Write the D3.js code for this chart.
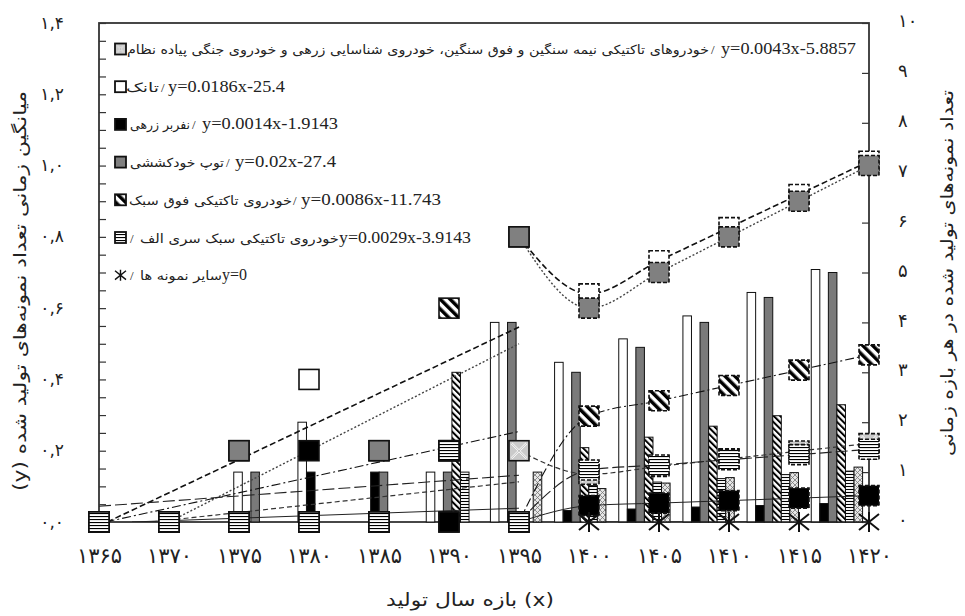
<!DOCTYPE html>
<html><head><meta charset="utf-8">
<script src="https://cdn.jsdelivr.net/npm/d3@7"></script>
<style>body{margin:0;background:#fff}svg{display:block}</style>
</head><body><svg id="c" width="965" height="616"></svg>
<script>
// ---------------- DATA ----------------
const years = [1365,1370,1375,1380,1385,1390,1395,1400,1405,1410,1415,1420];
const xTickLabels = ["۱۳۶۵","۱۳۷۰","۱۳۷۵","۱۳۸۰","۱۳۸۵","۱۳۹۰","۱۳۹۵","۱۴۰۰","۱۴۰۵","۱۴۱۰","۱۴۱۵","۱۴۲۰"];
const leftTickValues = [0,0.2,0.4,0.6,0.8,1.0,1.2,1.4];
const leftTickLabels = ["۰,۰","۰,۲","۰,۴","۰,۶","۰,۸","۱,۰","۱,۲","۱,۴"];
const rightTickValues = [0,1,2,3,4,5,6,7,8,9,10];
const rightTickLabels = ["۰","۱","۲","۳","۴","۵","۶","۷","۸","۹","۱۰"];

const seriesKeys = ["heavy","tank","apc","spg","ultra","lightA","others"];
const seriesNames = [
  "خودروهای تاکتیکی نیمه سنگین و فوق سنگین، خودروی شناسایی زرهی و خودروی جنگی پیاده نظام",
  "تانک",
  "نفربر زرهی",
  "توپ خودکششی",
  "خودروی تاکتیکی فوق سبک",
  "خودروی تاکتیکی سبک سری الف",
  "سایر نمونه ها"
];
const trendLabels = ["y=0.0043x-5.8857","y=0.0186x-25.4","y=0.0014x-1.9143","y=0.02x-27.4","y=0.0086x-11.743","y=0.0029x-3.9143","y=0"];
const trendSlope = [0.0043,0.0186,0.0014,0.02,0.0086,0.0029,0];
const trendIntercept = [-5.8857,-25.4,-1.9143,-27.4,-11.743,-3.9143,0];

// time-average markers (left axis), 1365..1420
const avgHeavy  = [0,0,0,0,0,0,0.2, 0.134,0.156,0.177,0.199,0.22];
const avgTank   = [0,0,0.2,0.4,0,0.2,0.8, 0.64,0.733,0.826,0.919,1.012];
const avgApc    = [0,0,0,0.2,0.2,0,0, 0.046,0.053,0.06,0.067,0.074];
const avgSpg    = [0,0,0.2,0,0.2,0.2,0.8, 0.6,0.7,0.8,0.9,1.0];
const avgUltra  = [0,0,0,0,0,0.6,0, 0.297,0.34,0.383,0.426,0.469];
const avgLightA = [0,0,0,0,0,0.2,0, 0.146,0.16,0.175,0.189,0.204];
const avgOthers = [null,null,null,null,null,null,null, 0,0,0,0,0];

// counts per period (right axis bars)
const barTank   = [0,0,1,2,0,1,4, 3.2,3.67,4.13,4.6,5.06];
const barApc    = [0,0,0,1,1,0,0, 0.23,0.26,0.3,0.33,0.37];
const barSpg    = [0,0,1,0,1,1,4, 3,3.5,4,4.5,5];
const barUltra  = [0,0,0,0,0,3,0, 1.49,1.7,1.92,2.13,2.35];
const barLightA = [0,0,0,0,0,1,0, 0.73,0.8,0.87,0.95,1.02];
const barHeavy  = [0,0,0,0,0,0,1, 0.67,0.78,0.89,0.99,1.1];
const forecastStart = 1400;

// ---------------- SETUP ----------------
const avgData = {heavy:avgHeavy,tank:avgTank,apc:avgApc,spg:avgSpg,ultra:avgUltra,lightA:avgLightA,others:avgOthers};
const barKeys = ["tank","apc","spg","ultra","lightA","heavy"];
const barData = {tank:barTank,apc:barApc,spg:barSpg,ultra:barUltra,lightA:barLightA,heavy:barHeavy};

const P = {l:99,r:869,t:23,b:522};
const svg = d3.select("#c");
const x = d3.scaleLinear().domain([1365,1420]).range([P.l,P.r]);
const yL = d3.scaleLinear().domain([0,1.4]).range([P.b,P.t]);
const yR = d3.scaleLinear().domain([0,10]).range([P.b,P.t]);
const xb = d3.scaleBand().domain(years).range([P.l,P.r]).paddingInner(0.2).paddingOuter(0.1);
const xs = d3.scaleBand().domain(barKeys).range([0,xb.bandwidth()]);

const PERSIAN = "'DejaVu Sans', 'Noto Sans', sans-serif";
const SERIF = "'Liberation Serif', 'DejaVu Serif', serif";

// patterns
const defs = svg.append("defs");
function stripes(id, size, bar, rot, bg){
  const p = defs.append("pattern").attr("id",id).attr("patternUnits","userSpaceOnUse")
    .attr("width",size).attr("height",size).attr("patternTransform",`rotate(${rot})`);
  p.append("rect").attr("width",size).attr("height",size).attr("fill",bg);
  p.append("rect").attr("width",bar).attr("height",size).attr("fill","#000");
}
stripes("hatchM",7,3.5,-45,"#fff");
stripes("hatchB",4.5,2,-45,"#fff");
stripes("horizM",3,1.1,90,"#fff");
stripes("horizB",3,1,90,"#f4f4f4");
(function(){
  const p = defs.append("pattern").attr("id","crossB").attr("patternUnits","userSpaceOnUse").attr("width",5).attr("height",5);
  p.append("rect").attr("width",5).attr("height",5).attr("fill","#e6e6e6");
  p.append("path").attr("d","M0,0L5,5M5,0L0,5").attr("stroke","#777").attr("stroke-width",0.8);
})();
const clip = defs.append("clipPath").attr("id","plotClip");
clip.append("rect").attr("x",P.l).attr("y",P.t-12).attr("width",P.r-P.l+12).attr("height",P.b-P.t+12);

const fills = {heavy:"#cacaca",tank:"#fff",apc:"#000",spg:"#808080",ultra:"url(#hatchM)",lightA:"url(#horizM)"};
const barFills = {heavy:"url(#crossB)",tank:"#fff",apc:"#000",spg:"#7a7a7a",ultra:"url(#hatchB)",lightA:"url(#horizB)"};

// ---------------- AXES FRAME ----------------
svg.append("rect").attr("x",P.l).attr("y",P.t).attr("width",P.r-P.l).attr("height",P.b-P.t)
  .attr("fill","none").attr("stroke","#333").attr("stroke-width",1.8);

const minor = d3.range(0,1.4001,0.05).map(v=>+v.toFixed(2));
const gL = svg.append("g").attr("transform",`translate(${P.l},0)`)
  .call(d3.axisLeft(yL).tickValues(minor).tickSize(-7).tickPadding(35)
    .tickFormat(v=>{const i=leftTickValues.findIndex(t=>Math.abs(t-v)<1e-6);return i>=0?leftTickLabels[i]:"";}));
gL.select(".domain").remove();
gL.selectAll(".tick line").attr("stroke","#333").attr("stroke-width",1.2);
gL.selectAll("text").attr("font-family",PERSIAN).attr("font-size",17).attr("fill","#222").attr("dy","0.3em");

const gR = svg.append("g").attr("transform",`translate(${P.r},0)`)
  .call(d3.axisRight(yR).tickValues(rightTickValues).tickSize(-7).tickPadding(29)
    .tickFormat((v,i)=>rightTickLabels[i]));
gR.select(".domain").remove();
gR.selectAll(".tick line").attr("stroke","#333").attr("stroke-width",1.2);
gR.selectAll("text").attr("font-family",PERSIAN).attr("font-size",18).attr("fill","#222").attr("dy","0.2em");

const gB = svg.append("g").attr("transform",`translate(0,${P.b})`)
  .call(d3.axisBottom(x).tickValues(years).tickSize(0).tickPadding(26).tickFormat((v,i)=>xTickLabels[i]));
gB.select(".domain").remove();
gB.selectAll("text").attr("font-family",PERSIAN).attr("font-size",21).attr("fill","#222");

// titles
svg.append("text").attr("transform","translate(20,291) rotate(-90)")
  .attr("direction","rtl").attr("text-anchor","middle").attr("dominant-baseline","central")
  .attr("font-family",PERSIAN).attr("font-size",17).attr("fill","#222")
  .attr("textLength",400).attr("lengthAdjust","spacingAndGlyphs")
  .text("میانگین زمانی تعداد نمونه‌های تولید شده (y)");
svg.append("text").attr("transform","translate(947,273) rotate(-90)")
  .attr("direction","rtl").attr("text-anchor","middle").attr("dominant-baseline","central")
  .attr("font-family",PERSIAN).attr("font-size",17).attr("fill","#222")
  .attr("textLength",366).attr("lengthAdjust","spacingAndGlyphs")
  .text("تعداد نمونه‌های تولید شده در هر بازه زمانی");
svg.append("text").attr("x",470).attr("y",606).attr("text-anchor","middle")
  .attr("font-family",PERSIAN).attr("font-size",18).attr("fill","#222")
  .attr("textLength",168).attr("lengthAdjust","spacingAndGlyphs")
  .text("بازه سال تولید (x)");

// ---------------- BARS ----------------
const gBars = svg.append("g");
years.forEach((yr,i)=>{
  barKeys.forEach(k=>{
    const v = barData[k][i];
    if(!v) return;
    gBars.append("rect").attr("x",xb(yr)+xs(k)).attr("width",xs.bandwidth())
      .attr("y",yR(v)).attr("height",yR(0)-yR(v))
      .attr("fill",barFills[k]).attr("stroke","#111").attr("stroke-width",1);
  });
});

// ---------------- LINES ----------------
const lineStyle = {
  heavy:{dash:"5,3",c:"#333",w:1.2},
  tank:{dash:"6,3",c:"#111",w:1.6},
  apc:{dash:null,c:"#222",w:1},
  spg:{dash:"2,2",c:"#444",w:1.4},
  ultra:{dash:"9,3,2,3",c:"#111",w:1.1},
  lightA:{dash:"12,4",c:"#222",w:1.1},
  others:{dash:null,c:"#222",w:1}
};
const gLines = svg.append("g").attr("clip-path","url(#plotClip)");
const line = d3.line().defined(d=>d[1]!=null).x(d=>x(d[0])).y(d=>yL(d[1])).curve(d3.curveMonotoneX);
seriesKeys.forEach((k,si)=>{
  const st = lineStyle[k];
  const a = trendSlope[si], b = trendIntercept[si];
  let x0 = 1365; if(a>0 && a*x0+b<0) x0 = -b/a;
  const tr = [[x0,a*x0+b],[1395,a*1395+b]];
  if(k!=="others") gLines.append("path").attr("d",d3.line().x(d=>x(d[0])).y(d=>yL(d[1]))(tr))
    .attr("fill","none").attr("stroke",st.c).attr("stroke-width",st.w).attr("stroke-dasharray",st.dash);
  const pts = years.map((yr,i)=>[yr,avgData[k][i]]).filter(d=>d[0]>=1395);
  gLines.append("path").attr("d",line(pts))
    .attr("fill","none").attr("stroke",st.c).attr("stroke-width",st.w).attr("stroke-dasharray",st.dash);
});

// ---------------- MARKERS ----------------
function marker(g,k,cx,cy,s,dashed){
  if(k==="others"){
    const h=s/2;
    g.append("path").attr("d",`M${cx-h},${cy-h*0.8}L${cx+h},${cy+h*0.8}M${cx+h},${cy-h*0.8}L${cx-h},${cy+h*0.8}M${cx},${cy-h}L${cx},${cy+h}`)
      .attr("stroke","#111").attr("stroke-width",s>14?2:1.4).attr("fill","none");
    return;
  }
  g.append("rect").attr("x",cx-s/2).attr("y",cy-s/2).attr("width",s).attr("height",s)
    .attr("fill",fills[k]).attr("stroke","#111").attr("stroke-width",s>14?1.6:1.8)
    .attr("stroke-dasharray",dashed?"4,2":null);
  if(k==="heavy"){
    const h=s/2-2.5;
    g.append("path").attr("d",`M${cx-h},${cy-h}L${cx+h},${cy+h}M${cx+h},${cy-h}L${cx-h},${cy+h}`)
      .attr("stroke","#fff").attr("stroke-width",s>14?2.2:1.4);
    g.append("path").attr("d",`M${cx-h},${cy-h}L${cx+h},${cy+h}M${cx+h},${cy-h}L${cx-h},${cy+h}`)
      .attr("stroke","#888").attr("stroke-width",0.6);
  }
}
const gM = svg.append("g");
seriesKeys.forEach(k=>{
  years.forEach((yr,i)=>{
    const v = avgData[k][i];
    if(v==null) return;
    marker(gM,k,x(yr),yL(v),20,yr>=forecastStart);
  });
});

// ---------------- LEGEND ----------------
const legendRowY = d3.range(7).map(i=>49+i*37.7);
const legendOrder = [["name","sep","eq"],["name","sep","eq"],["name","sep","eq"],["name","sep","eq"],["name","sep","eq"],["sep","name","eq"],["sep","name","eq"]];
const legendPos = [[127,711,721],[126,161,168],[130,192,202],[130,226,235],[129,293,301],[130,140,339],[130,140,222]];
const legendW = [[582,0,135],[33,0,117],[60,0,136],[94,0,101],[163,0,140],[0,199,132],[0,82,25]];
const gLeg = svg.append("g");
seriesKeys.forEach((k,i)=>{
  const cy = legendRowY[i];
  marker(gLeg,k,120.5,cy,11,false);
  legendOrder[i].forEach((part,j)=>{
    const t = gLeg.append("text").attr("x",legendPos[i][j]).attr("y",cy+5).attr("fill","#222");
    if(part==="name"){
      t.attr("font-family",PERSIAN).attr("font-size",12.5).text(seriesNames[i]);
    } else if(part==="sep"){
      t.attr("font-family",SERIF).attr("font-size",13).text("/");
    } else {
      t.attr("font-family",SERIF).attr("font-size",16).text(trendLabels[i]);
    }
    const w = legendW[i][j];
    if(w) t.attr("textLength",w).attr("lengthAdjust","spacingAndGlyphs");
  });
});
</script></body></html>
